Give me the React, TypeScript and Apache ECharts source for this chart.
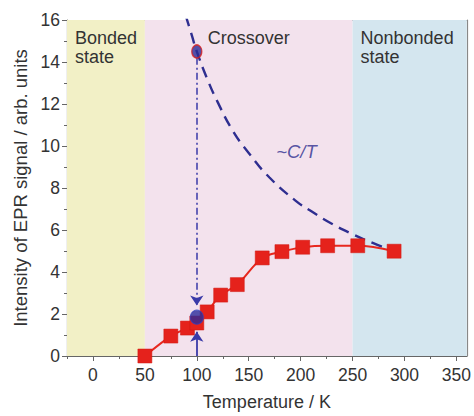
import React, { useEffect, useRef } from "react";
import * as echarts from "echarts";

// Measured EPR intensity (red squares)
const tempK = [50, 75, 91, 100, 110, 123, 139, 163, 182, 202, 226, 255, 290];
const intensity = [0, 0.95, 1.33, 1.57, 2.1, 2.9, 3.4, 4.67, 4.97, 5.18, 5.25, 5.25, 4.99];

// ~C/T dashed curve
const curieT = [89.4, 95, 100, 110, 120, 135, 150, 170, 195, 210, 230, 250, 270, 290];
const curieI = [16.2, 15.3, 14.5, 13.2, 12.1, 10.7, 9.67, 8.5, 7.4, 6.9, 6.3, 5.8, 5.37, 5.0];

// blue markers at 100 K
const markT = [100, 100];
const markI = [14.5, 1.85];

// arrows at 100 K
const downArrow = [[100, 14.2], [100, 2.4]];
const upArrow = [[100, 0], [100, 1.15]];

// regions
const regionNames = ["Bonded\nstate", "Crossover", "Nonbonded\nstate"];
const regionBounds = [[-25, 50], [50, 250], [250, 360]];
const regionColors = ["#f2f0c6", "#f3e2ed", "#d4e6ef"];

const xMajor = [0, 50, 100, 150, 200, 250, 300, 350];
const xMinor = [-25, 25, 75, 125, 175, 225, 275, 325];

const ctLabel = { t: 196, i: 9.74, text: "~C/T" };

export default function App() {
  const ref = useRef<HTMLDivElement>(null);
  useEffect(() => {
    document.body.style.margin = "0";
    if (!ref.current) return;
    const chart = echarts.init(ref.current, null, { renderer: "svg" });
    const font = "Liberation Sans, Arial, sans-serif";
    const axisColor = "#666";
    const labelColor = "#333";
    const regionPos = ["insideTopLeft", "insideTop", "insideTopLeft"];
    const option: any = {
      animation: false,
      grid: { left: 67, right: 4, top: 20, bottom: 56 },
      xAxis: [
        {
          type: "value",
          min: -25,
          max: 360,
          position: "bottom",
          name: "Temperature / K",
          nameLocation: "middle",
          nameGap: 37,
          nameTextStyle: { fontFamily: font, fontSize: 18, color: labelColor },
          axisLine: { show: true, onZero: false, lineStyle: { color: axisColor, width: 1.2 } },
          axisTick: { show: true, customValues: xMajor, length: 5, lineStyle: { color: axisColor } },
          axisLabel: { customValues: xMajor, fontFamily: font, fontSize: 17.5, color: labelColor, margin: 10 },
          splitLine: { show: false },
        },
        {
          type: "value",
          min: -25,
          max: 360,
          position: "bottom",
          axisLine: { show: false },
          axisTick: { show: true, customValues: xMinor, length: 3, lineStyle: { color: axisColor } },
          axisLabel: { show: false },
          splitLine: { show: false },
        },
        {
          type: "value",
          min: -25,
          max: 360,
          position: "top",
          axisLine: { show: true, onZero: false, lineStyle: { color: "#888", width: 1.2 } },
          axisTick: { show: false },
          axisLabel: { show: false },
          splitLine: { show: false },
        },
      ],
      yAxis: [
        {
          type: "value",
          min: 0,
          max: 16,
          interval: 2,
          name: "Intensity of EPR signal / arb. units",
          nameLocation: "middle",
          nameGap: 36,
          nameTextStyle: { fontFamily: font, fontSize: 18.5, color: labelColor },
          axisLine: { show: true, onZero: false, lineStyle: { color: axisColor, width: 1.2 } },
          axisTick: { show: true, length: 5, lineStyle: { color: axisColor } },
          minorTick: { show: true, splitNumber: 2, length: 3, lineStyle: { color: axisColor } },
          axisLabel: { fontFamily: font, fontSize: 17.5, color: labelColor, margin: 7 },
          splitLine: { show: false },
        },
        {
          type: "value",
          min: 0,
          max: 16,
          interval: 2,
          position: "right",
          axisLine: { show: true, onZero: false, lineStyle: { color: "#888", width: 1.2 } },
          axisTick: { show: false },
          axisLabel: { show: false },
          splitLine: { show: false },
        },
      ],
      series: [
        {
          type: "line",
          data: curieT.map((t, k) => [t, curieI[k]]),
          smooth: true,
          showSymbol: false,
          symbol: "none",
          lineStyle: { color: "#2e2e90", width: 2.4, type: [11, 7] },
          z: 3,
          markArea: {
            silent: true,
            data: regionBounds.map((b, k) => [
              {
                xAxis: b[0],
                yAxis: 16,
                itemStyle: { color: regionColors[k] },
                label: {
                  show: true,
                  formatter: regionNames[k],
                  position: regionPos[k],
                  distance: 8,
                  fontFamily: font,
                  fontSize: 18,
                  lineHeight: 19,
                  color: "#333",
                },
              },
              { xAxis: b[1], yAxis: 0 },
            ]),
          },
        },
        {
          type: "line",
          data: tempK.map((t, k) => [t, intensity[k]]),
          smooth: 0.35,
          symbol: "rect",
          symbolSize: 14,
          itemStyle: { color: "#e5221c", borderColor: "#d01810", borderWidth: 0.5 },
          lineStyle: { color: "#e8281f", width: 2 },
          z: 4,
          markLine: {
            silent: true,
            symbol: ["none", "arrow"],
            symbolSize: 10,
            label: { show: false },
            data: [
              [
                { coord: downArrow[0], lineStyle: { color: "#3a3aa8", width: 1.5, type: [7, 3, 2, 3] } },
                { coord: downArrow[1] },
              ],
              [
                { coord: upArrow[0], lineStyle: { color: "#3a3aa8", width: 1.8, type: "solid" } },
                { coord: upArrow[1] },
              ],
            ],
          },
        },
        {
          type: "scatter",
          data: [
            { value: [markT[0], markI[0]], symbolSize: [10, 13], itemStyle: { color: "#2a2a95", borderColor: "#d42020", borderWidth: 1.5 } },
            { value: [markT[1], markI[1]], symbolSize: [13, 14], itemStyle: { color: "#2a2a9a", borderColor: "#3040c0", borderWidth: 1 } },
          ],
          z: 6,
        },
        {
          type: "scatter",
          data: [[ctLabel.t, ctLabel.i]],
          symbolSize: 1,
          itemStyle: { color: "rgba(0,0,0,0)" },
          label: {
            show: true,
            position: "inside",
            formatter: ctLabel.text,
            fontFamily: font,
            fontSize: 18.5,
            fontStyle: "italic",
            color: "#2e2e90",
          },
          z: 5,
        },
      ],
    };
    chart.setOption(option);
    return () => chart.dispose();
  }, []);
  return <div ref={ref} style={{ width: 474, height: 416 }} />;
}
